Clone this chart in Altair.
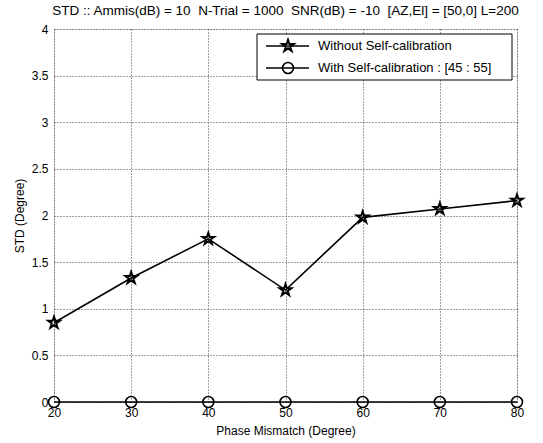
import altair as alt
import pandas as pd

phase = [20, 30, 40, 50, 60, 70, 80]
std_without = [0.85, 1.33, 1.75, 1.20, 1.98, 2.07, 2.16]
std_with = [0, 0, 0, 0, 0, 0, 0]
series_names = ["Without Self-calibration", "With Self-calibration : [45 : 55]"]
x_ticks = [20, 30, 40, 50, 60, 70, 80]
y_ticks = [0, 0.5, 1, 1.5, 2, 2.5, 3, 3.5, 4]
NB = "\u00a0"
title_text = ("STD :: Ammis(dB) = 10" + NB + NB + "N-Trial = 1000" + NB + NB +
              "SNR(dB) = -10" + NB + NB + "[AZ,El] = [50,0] L=200")

FONT = "Liberation Sans"
STAR = ("M0,-1L0.225,-0.309L0.951,-0.309L0.363,0.118L0.588,0.809L0,0.382"
        "L-0.588,0.809L-0.363,0.118L-0.951,-0.309L-0.225,-0.309Z")

df = pd.concat([
    pd.DataFrame({"phase": phase, "std": std_without, "series": series_names[0]}),
    pd.DataFrame({"phase": phase, "std": std_with, "series": series_names[1]}),
])

xs = alt.Scale(domain=[20, 80], nice=False, zero=False)
ys = alt.Scale(domain=[0, 4], nice=False)

xax = alt.Axis(values=x_ticks, title="Phase Mismatch (Degree)", grid=True,
               gridDash=[1, 2], gridColor="#111", gridWidth=0.8,
               tickSize=0, labelPadding=5, domain=False, format="d", labelFlush=False,
               labelFont=FONT, labelFontSize=12, labelColor="black",
               titleFont=FONT, titleFontSize=12, titleFontWeight="normal",
               titleColor="black", titlePadding=7)
yax = alt.Axis(values=y_ticks, title="STD (Degree)", grid=True,
               gridDash=[1, 2], gridColor="#111", gridWidth=0.8,
               tickSize=0, labelPadding=6, domain=False, format="~g", labelFlush=False,
               labelFont=FONT, labelFontSize=12, labelColor="black",
               titleFont=FONT, titleFontSize=12, titleFontWeight="normal",
               titleColor="black", titlePadding=5)

base = alt.Chart(df).encode(
    x=alt.X("phase:Q", scale=xs, axis=xax),
    y=alt.Y("std:Q", scale=ys, axis=yax),
)

line_wo = base.transform_filter(alt.datum.series == series_names[0]).mark_line(
    color="black", strokeWidth=1.6)
pts_wo = base.transform_filter(alt.datum.series == series_names[0]).mark_point(
    shape=STAR, size=150, filled=False, color="black", strokeWidth=2, opacity=1)
line_w = base.transform_filter(alt.datum.series == series_names[1]).mark_line(
    color="black", strokeWidth=1.6)
pts_w = base.transform_filter(alt.datum.series == series_names[1]).mark_point(
    shape="circle", size=120, filled=False, color="black", strokeWidth=1.6, opacity=1)

one = pd.DataFrame({"a": [0]})
leg_box = alt.Chart(one).mark_rect(fill="white", stroke="black", strokeWidth=1).encode(
    x=alt.value(203), x2=alt.value(458), y=alt.value(5), y2=alt.value(51))
rows = []
for i, (name, shp, sz, sw) in enumerate([(series_names[0], STAR, 150, 2), (series_names[1], "circle", 120, 1.6)]):
    yy = 17 + i * 22
    rows.append(alt.Chart(one).mark_rule(color="black", strokeWidth=1.6).encode(
        x=alt.value(212), x2=alt.value(255), y=alt.value(yy)))
    rows.append(alt.Chart(one).mark_point(shape=shp, size=sz, filled=False, color="black",
                                          strokeWidth=sw, opacity=1).encode(
        x=alt.value(234), y=alt.value(yy)))
    rows.append(alt.Chart(one).mark_text(align="left", baseline="middle", font=FONT,
                                         fontSize=13, color="black").encode(
        x=alt.value(264), y=alt.value(yy), text=alt.value(name)))

chart = alt.layer(line_w, pts_w, line_wo, pts_wo, leg_box, *rows).properties(
    width=463, height=373,
    padding={"left": 54, "top": 29, "right": 26, "bottom": 41},
    autosize="none",
    title=alt.TitleParams(title_text, font=FONT, fontSize=13.5, fontWeight="normal",
                          color="black", anchor="middle", offset=6),
).configure_view(stroke="black", strokeWidth=1.2).configure(background="white")

chart.save("out.html", embed_options={"renderer": "svg", "actions": False})
